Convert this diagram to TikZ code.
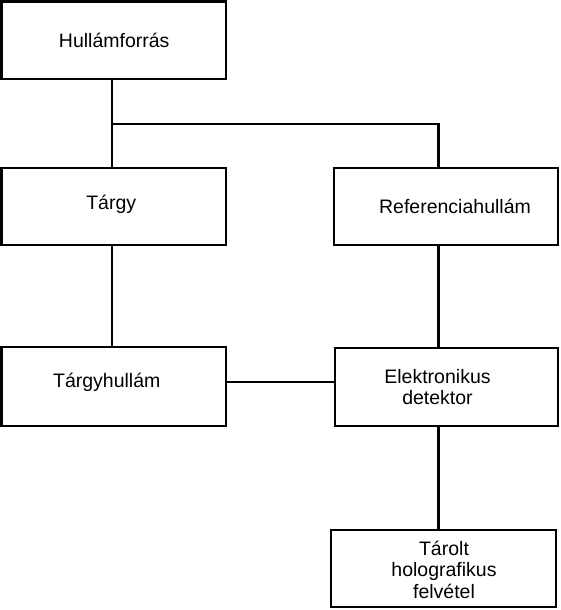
\documentclass[tikz,border=0pt]{standalone}
\usepackage{fontspec}
\setmainfont{Liberation Sans}
\begin{document}
\begin{tikzpicture}[x=1pt,y=-1pt,
  box/.style={draw=black,line width=2.8pt,inner sep=0pt,fill=white},
  lbl/.style={font=\fontsize{19.5}{21.5}\selectfont,align=center,inner sep=0pt},
  conn/.style={draw=black,line width=2.7pt}]
\useasboundingbox (0,0) rectangle (561,610);
\fill[white] (0,0) rectangle (561,610);
\node[box,minimum width=224.5pt,minimum height=77.5pt,label={[lbl,xshift=0.5pt]center:Hullámforrás}] (A) at (113.75,40.25) {};
\node[box,minimum width=224.5pt,minimum height=77pt,label={[lbl,xshift=-2.5pt,yshift=2pt]center:Tárgy}] (B) at (113.75,206.5) {};
\node[box,minimum width=224pt,minimum height=77pt,label={[lbl,xshift=9pt]center:Referenciahullám}] (C) at (446,206.5) {};
\node[box,minimum width=224.5pt,minimum height=79pt,label={[lbl,xshift=-7pt,yshift=4pt]center:Tárgyhullám}] (D) at (113.75,386.5) {};
\node[box,minimum width=223pt,minimum height=78pt,label={[lbl,xshift=-9pt]center:Elektronikus\\detektor}] (E) at (446.5,387) {};
\node[box,minimum width=225pt,minimum height=77pt,label={[lbl,xshift=0.5pt,yshift=-1pt]center:Tárolt\\holografikus\\felvétel}] (F) at (443.5,568.5) {};
\coordinate (j) at (112,124);
\coordinate (rx) at (438.5,0);
\draw[conn] (A.south -| j) -- (B.north -| j);
\draw[conn] (j) -| (C.north -| rx);
\draw[conn] (B.south -| j) -- (D.north -| j);
\draw[conn] (C.south -| rx) -- (E.north -| rx);
\draw[conn] ([yshift=4.5pt]D.east) -- ([yshift=4.5pt]D.east -| E.west);
\draw[conn] (E.south -| rx) -- (F.north -| rx);
\end{tikzpicture}
\end{document}
